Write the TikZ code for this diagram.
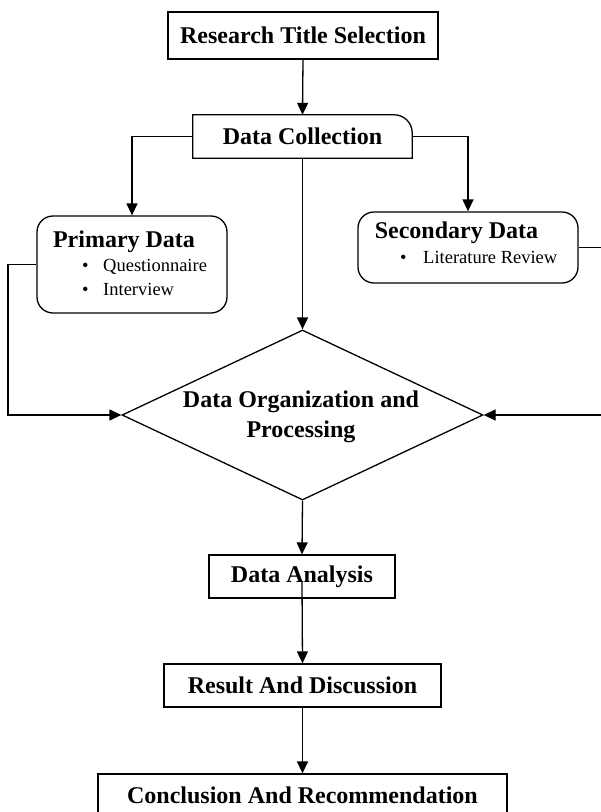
\documentclass[tikz,border=0pt]{standalone}
\usepackage{fontspec}
\setmainfont{Liberation Serif}
\usetikzlibrary{shapes.geometric,arrows.meta}

\tikzset{
    box/.style={draw, line width=1.3pt, minimum height=43pt, inner sep=0pt, font=\fontsize{24}{30}\selectfont\bfseries},
    roundbox/.style={draw, line width=1.3pt, rounded corners=16pt, inner sep=0pt},
    head/.style={inner sep=0pt, font=\fontsize{24}{30}\selectfont\bfseries},
    item/.style={inner sep=0pt, anchor=west, font=\fontsize{18.5}{22}\selectfont},
    flow/.style={line width=1.3pt, -{Triangle[length=12pt,width=11pt]}},
    link/.style={line width=1.3pt}
}

\begin{document}
\begin{tikzpicture}[x=1pt,y=-1pt]
        \useasboundingbox (0,0) rectangle (601,812);
        \clip (0,0) rectangle (601,812);

        % main column
        \node[box, minimum width=270pt, minimum height=47pt] (title) at (303,35.5) {Research Title Selection};
        \node[head, minimum width=219pt, minimum height=43pt] (dc) at (302.5,136.5) {Data Collection};
        \draw[link] (dc.south west) -- (dc.north west) [rounded corners=18pt] -- (dc.north east) [sharp corners] -- (dc.south east) -- cycle;

        % sources
        \node[roundbox, minimum width=190pt, minimum height=97pt] (pd) at (132,264.5) {};
        \node[head] (pdhead) at (124,242) {Primary Data};
        \node[item] (quest) at (82,267) {\makebox[21pt][l]{\textbullet}Questionnaire};
        \node[item] (inter) at (82,289) {\makebox[21pt][l]{\textbullet}Interview};

        \node[roundbox, minimum width=220pt, minimum height=71pt] (sd) at (468,247.5) {};
        \node[head] (sdhead) at (456.5,233) {Secondary Data};
        \node[item] (lit) at (400,257) {\makebox[23pt][l]{\textbullet}Literature Review};

        % processing
        \node[diamond, draw, line width=1.3pt, minimum width=361pt, minimum height=170pt, inner sep=0pt] (dop) at (302.5,415) {};
        \node[head, align=center] (doptext) at (301,417) {Data Organization and\\Processing};

        \node[box, minimum width=186pt] (da) at (302,576.5) {Data Analysis};
        \node[box, minimum width=277pt] (rd) at (302.5,685.5) {Result And Discussion};
        \node[box, minimum width=409pt] (cr) at (302.5,795.5) {Conclusion And Recommendation};

        \coordinate (lbend) at (8,0);
        \coordinate (rbend) at (606,0);

        % connectors
        \draw[flow] (title.south) -- (dc.north);
        \draw[flow] (dc.west) -| (pd.north);
        \draw[flow] (dc.east) -| (sd.north);
        \draw[flow] (dc.south) -- (dop.north);
        \draw[flow] (pd.west) -- (pd.west -| lbend) |- (dop.west);
        \draw[flow] (sd.east) -- (sd.east -| rbend) |- (dop.east);
        \draw[flow] (dop.south) -- (da.north);
        \draw[flow] ([yshift=-5pt]da.center) -- (rd.north);
        \draw[flow] (rd.south) -- (cr.north);
\end{tikzpicture}
\end{document}
